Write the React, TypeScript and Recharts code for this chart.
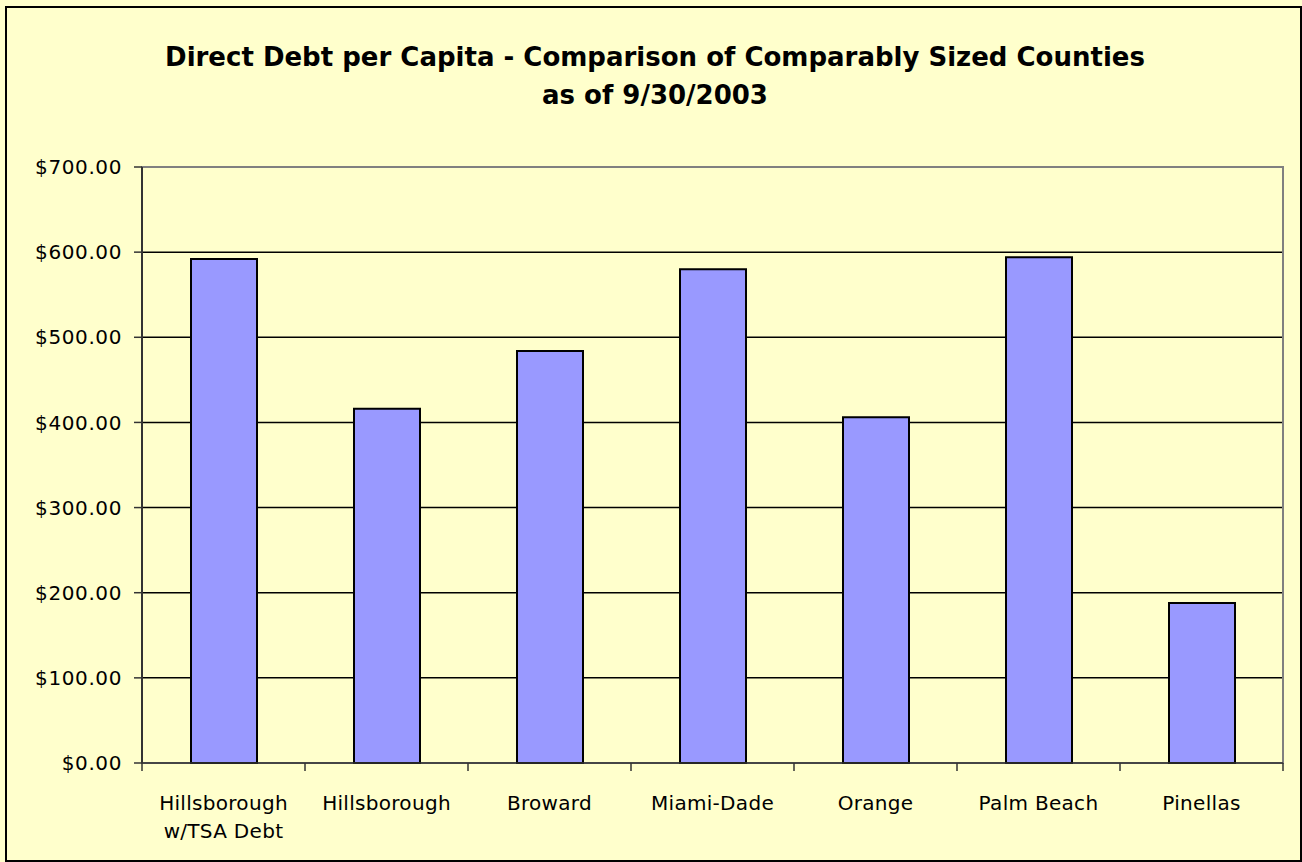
import React from 'react';
import { BarChart, Bar, XAxis, YAxis, CartesianGrid, ReferenceArea } from 'recharts';

const categories = [
  'Hillsborough\nw/TSA Debt',
  'Hillsborough',
  'Broward',
  'Miami-Dade',
  'Orange',
  'Palm Beach',
  'Pinellas',
];
const debtPerCapita = [592, 416, 484, 580, 406, 594, 188];
const yTicks = [0, 100, 200, 300, 400, 500, 600, 700];
const titleLines = [
  'Direct Debt per Capita - Comparison of Comparably Sized Counties',
  'as of 9/30/2003',
];

const data = categories.map((c, i) => ({ name: c, value: debtPerCapita[i] }));

const W = 1302;
const H = 862;
const PLOT_LEFT = 142;
const PLOT_RIGHT = 1283;
const PLOT_TOP = 167;
const PLOT_BOTTOM = 763;
const BAND = (PLOT_RIGHT - PLOT_LEFT) / categories.length;
const FONT = '"DejaVu Sans", Verdana, sans-serif';

const XTick = (props: any) => {
  const { x, payload, index } = props;
  const lines = String(payload.value).split('\n');
  return (
    <g>
      <line x1={x - BAND / 2} x2={x - BAND / 2} y1={PLOT_BOTTOM} y2={PLOT_BOTTOM + 8} stroke="#333" strokeWidth={1.5} />
      {index === categories.length - 1 && (
        <line x1={x + BAND / 2} x2={x + BAND / 2} y1={PLOT_BOTTOM} y2={PLOT_BOTTOM + 8} stroke="#333" strokeWidth={1.5} />
      )}
      {lines.map((l, i) => (
        <text
          key={i}
          x={x}
          y={PLOT_BOTTOM + 47 + i * 28}
          textAnchor="middle"
          fontFamily={FONT}
          fontSize={20}
          letterSpacing={0.3}
          fill="#000"
        >
          {l}
        </text>
      ))}
    </g>
  );
};

export default function App() {
  return (
    <div style={{ position: 'absolute', left: 0, top: 0, width: W, height: H, background: '#FFFFCC' }}>
      <div
        style={{
          position: 'absolute',
          left: 5,
          top: 6,
          width: W - 5,
          height: H - 6,
          border: '2px solid #000',
          boxSizing: 'border-box',
        }}
      />
      <div
        style={{
          position: 'absolute',
          left: 0,
          top: 38,
          width: 1310,
          textAlign: 'center',
          fontFamily: FONT,
          fontWeight: 'bold',
          fontSize: 26,
          lineHeight: '38px',
          color: '#000',
        }}
      >
        {titleLines.map((t, i) => (
          <div key={i}>{t}</div>
        ))}
      </div>
      <div style={{ position: 'absolute', left: 0, top: 0 }}>
        <BarChart
          width={W}
          height={H}
          data={data}
          margin={{ top: PLOT_TOP, right: W - PLOT_RIGHT, bottom: 0, left: 0 }}
        >
          <CartesianGrid vertical={false} stroke="#000" strokeWidth={1.5} />
          <ReferenceArea y1={0} y2={700} stroke="#808080" strokeWidth={2} fill="none" fillOpacity={0} />
          <XAxis
            dataKey="name"
            tick={<XTick />}
            tickLine={false}
            axisLine={{ stroke: '#333', strokeWidth: 1.5 }}
            interval={0}
            height={H - PLOT_BOTTOM}
          />
          <YAxis
            width={PLOT_LEFT}
            domain={[0, 700]}
            ticks={yTicks}
            interval={0}
            tickFormatter={(v: number) => `$${v.toFixed(2)}`}
            tickSize={8}
            tickMargin={12}
            tickLine={{ stroke: '#333', strokeWidth: 1.5 }}
            axisLine={{ stroke: '#333', strokeWidth: 2 }}
            tick={{ fill: '#000', fontFamily: FONT, fontSize: 20, letterSpacing: 0.6 }}
          />
          <Bar
            dataKey="value"
            fill="#9999FF"
            stroke="#000"
            strokeWidth={2}
            barSize={66}
            isAnimationActive={false}
          />
        </BarChart>
      </div>
    </div>
  );
}
